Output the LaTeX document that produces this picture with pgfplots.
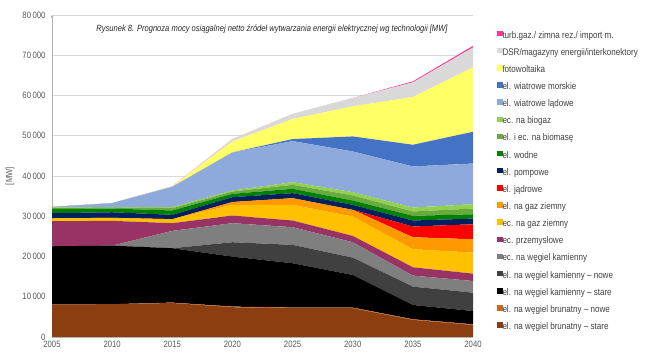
\documentclass[border=0pt]{standalone}
\usepackage{pgfplots}
\pgfplotsset{compat=1.18}
\usepackage{fontspec}
\setmainfont{Liberation Sans}[FakeStretch=0.84]
\usetikzlibrary{arrows.meta}
\definecolor{cBrS}{HTML}{8B3E0F}
\definecolor{cBrN}{HTML}{D0661C}
\definecolor{cKS}{HTML}{000000}
\definecolor{cKN}{HTML}{404040}
\definecolor{cEK}{HTML}{7F7F7F}
\definecolor{cPrz}{HTML}{993366}
\definecolor{cEG}{HTML}{FFC000}
\definecolor{cElG}{HTML}{FF9900}
\definecolor{cJad}{HTML}{FF0000}
\definecolor{cPom}{HTML}{002060}
\definecolor{cWod}{HTML}{008000}
\definecolor{cBio}{HTML}{6AAB3E}
\definecolor{cBgz}{HTML}{92D050}
\definecolor{cWL}{HTML}{8EA9DB}
\definecolor{cWM}{HTML}{4472C4}
\definecolor{cPV}{HTML}{FFFF66}
\definecolor{cDSR}{HTML}{D9D9D9}
\definecolor{cTG}{HTML}{FF3399}
\definecolor{txt}{HTML}{595959}
\begin{document}
\begin{tikzpicture}
\begin{axis}[
  at={(52bp,20bp)}, anchor=south west,
  scale only axis, width=421bp, height=322bp,
  xmin=2005, xmax=2040, ymin=0, ymax=80000,
  stack plots=y,
  area style,
  axis on top=false,
  axis y line=left, axis x line=bottom,
  y axis line style={draw=black!30, line width=0.6bp, -{Stealth[length=3bp,width=3bp]}},
  x axis line style={draw=black!30, line width=0.6bp, -},
  xtick={2005,2010,...,2040},
  ytick={0,10000,...,80000},
  major tick length=0pt,
  ymajorgrids, grid style={draw=black!15, line width=0.6bp},
  /pgf/number format/assume math mode=true,
  /pgf/number format/1000 sep={\,},
  scaled y ticks=false,
  x tick label style={/pgf/number format/1000 sep={}, font=\fontsize{9.2bp}{10bp}\selectfont, text=txt, yshift=-1bp},
  y tick label style={font=\fontsize{9.2bp}{10bp}\selectfont, text=txt, xshift=-3bp},
  ylabel={[MW]}, ylabel style={font=\fontsize{9.2bp}{10bp}\selectfont, text=txt, at={(axis description cs:-0.0998,0.5)}, anchor=center},
  title={Rysunek 8. Prognoza mocy osiągalnej netto źródeł wytwarzania energii elektrycznej wg technologii [MW]},
  title style={font=\itshape\fontsize{9bp}{10bp}\selectfont, text=black!85, at={(0.5226,0.96)}, anchor=center, yshift=-7bp},
  reverse legend,
  legend image code/.code={\fill[#1, draw=none] (0bp,-0.5bp) rectangle (5.5bp,5bp);},
  legend style={at={(1.057,0.951)}, anchor=north west, draw=none, fill=none,
    font=\fontsize{9.6bp}{10bp}\selectfont, text=black!75,
    row sep=7.9bp, inner sep=0pt, outer sep=0pt,
    nodes={inner sep=0pt, text height=6.5bp, text depth=2bp},
    /tikz/every even column/.append style={column sep=2.5bp}},
  legend cell align=left,
]
\addplot[fill=cBrS, draw=none] coordinates {(2005,8100) (2010,8150) (2015,8450) (2020,7400) (2025,7150) (2030,7150) (2035,4250) (2040,3000)} \closedcycle;
\addlegendentry{el. na węgiel brunatny – stare}
\addplot[fill=cBrN, draw=none] coordinates {(2005,0) (2010,0) (2015,100) (2020,150) (2025,150) (2030,150) (2035,150) (2040,150)} \closedcycle;
\addlegendentry{el. na węgiel brunatny – nowe}
\addplot[fill=cKS, draw=none] coordinates {(2005,14440) (2010,14550) (2015,13510) (2020,12430) (2025,11030) (2030,8120) (2035,3560) (2040,3300)} \closedcycle;
\addlegendentry{el. na węgiel kamienny – stare}
\addplot[fill=cKN, draw=none] coordinates {(2005,0) (2010,0) (2015,0) (2020,3570) (2025,4560) (2030,4310) (2035,4560) (2040,4560)} \closedcycle;
\addlegendentry{el. na węgiel kamienny – nowe}
\addplot[fill=cEK, draw=none] coordinates {(2005,0) (2010,0) (2015,4310) (2020,4730) (2025,4390) (2030,3820) (2035,2740) (2040,2900)} \closedcycle;
\addlegendentry{ec. na węgiel kamienny}
\addplot[fill=cPrz, draw=none] coordinates {(2005,6220) (2010,6160) (2015,1910) (2020,1900) (2025,1660) (2030,1570) (2035,2070) (2040,1830)} \closedcycle;
\addlegendentry{ec. przemysłowe}
\addplot[fill=cEG, draw=none] coordinates {(2005,740) (2010,740) (2015,990) (2020,2660) (2025,3900) (2030,4810) (2035,4480) (2040,5220)} \closedcycle;
\addlegendentry{ec. na gaz ziemny}
\addplot[fill=cElG, draw=none] coordinates {(2005,0) (2010,0) (2015,0) (2020,700) (2025,1650) (2030,1660) (2035,2980) (2040,3320)} \closedcycle;
\addlegendentry{el. na gaz ziemny}
\addplot[fill=cJad, draw=none] coordinates {(2005,0) (2010,0) (2015,0) (2020,0) (2025,0) (2030,0) (2035,2660) (2040,3730)} \closedcycle;
\addlegendentry{el. jądrowe}
\addplot[fill=cPom, draw=none] coordinates {(2005,1250) (2010,1400) (2015,1080) (2020,1200) (2025,1250) (2030,1250) (2035,1490) (2040,1410)} \closedcycle;
\addlegendentry{el. pompowe}
\addplot[fill=cWod, draw=none] coordinates {(2005,1070) (2010,900) (2015,1080) (2020,830) (2025,1080) (2030,1070) (2035,1160) (2040,1080)} \closedcycle;
\addlegendentry{el. wodne}
\addplot[fill=cBio, draw=none] coordinates {(2005,300) (2010,300) (2015,570) (2020,580) (2025,990) (2030,1250) (2035,1080) (2040,1410)} \closedcycle;
\addlegendentry{el. i ec. na biomasę}
\addplot[fill=cBgz, draw=none] coordinates {(2005,50) (2010,100) (2015,250) (2020,250) (2025,660) (2030,830) (2035,990) (2040,1080)} \closedcycle;
\addlegendentry{ec. na biogaz}
\addplot[fill=cWL, draw=none] coordinates {(2005,150) (2010,950) (2015,5050) (2020,9450) (2025,10200) (2030,10110) (2035,10200) (2040,10110)} \closedcycle;
\addlegendentry{el. wiatrowe lądowe}
\addplot[fill=cWM, draw=none] coordinates {(2005,0) (2010,0) (2015,0) (2020,0) (2025,500) (2030,3730) (2035,5390) (2040,7880)} \closedcycle;
\addlegendentry{el. wiatrowe morskie}
\addplot[fill=cPV, draw=none] coordinates {(2005,0) (2010,0) (2015,100) (2020,2730) (2025,4980) (2030,7470) (2035,11860) (2040,16000)} \closedcycle;
\addlegendentry{fotowoltaika}
\addplot[fill=cDSR, draw=none] coordinates {(2005,0) (2010,0) (2015,50) (2020,590) (2025,1240) (2030,2070) (2035,3640) (2040,4950)} \closedcycle;
\addlegendentry{DSR/magazyny energii/interkonektory}
\addplot[fill=cTG, draw=none] coordinates {(2005,0) (2010,0) (2015,0) (2020,0) (2025,0) (2030,0) (2035,250) (2040,400)} \closedcycle;
\addlegendentry{turb.gaz./ zimna rez./ import m.}
\end{axis}
\pgfresetboundingbox
\path[use as bounding box] (0,0) rectangle (645bp,357bp);
\end{tikzpicture}
\end{document}
